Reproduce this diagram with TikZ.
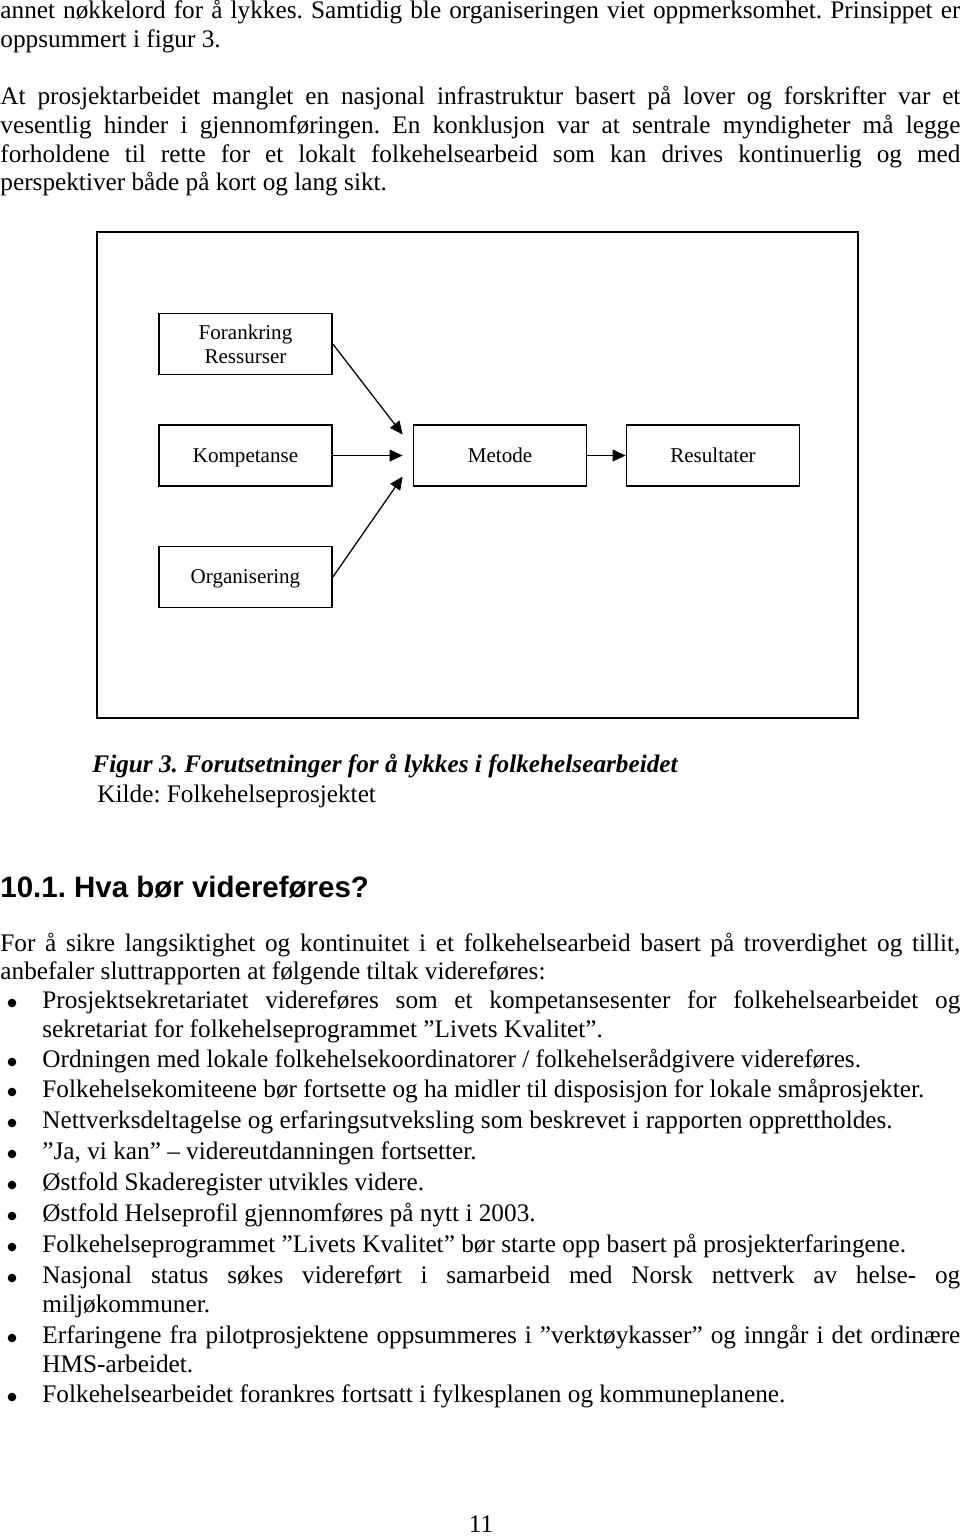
\documentclass[tikz,border=0pt]{standalone}
\usepackage{fontspec}
\setmainfont{Liberation Serif}
\newfontfamily\headfont{Liberation Sans}
\usepackage{tikz}
\usetikzlibrary{calc}
\usetikzlibrary{arrows.meta}

% Justified lines (full text width and bullet text width)
\newcommand{\fullline}[1]{\makebox[456pt][s]{#1}}
\newcommand{\itemline}[1]{\makebox[436pt][s]{#1}}
\newcommand{\boxstrut}{\rule[-2.4pt]{0pt}{11.4pt}}
\frenchspacing

\begin{document}
\begin{tikzpicture}[x=0.475pt, y=-0.475pt,
    txt/.style={anchor=base west, inner sep=0pt, font=\fontsize{12pt}{13.8pt}\selectfont},
    dot/.style={circle, fill, inner sep=0pt, minimum size=4.1pt},
    box/.style={draw, line width=0.8pt, minimum width=82.2pt, minimum height=29pt,
                align=center, inner sep=0pt, font=\fontsize{10pt}{11.4pt}\selectfont},
    arr/.style={-{Triangle[length=6.2pt,width=5.6pt]}, line width=0.6pt}]
    \useasboundingbox (0,0) rectangle (960,1537);

    % Define the text positions
    \def\bx{42}    % left edge of bullet text
    \def\dx{12}    % bullet centre

    % Text above the figure
    \node[txt] (p1a) at (0,18) {\fullline{annet nøkkelord for å lykkes. Samtidig ble organiseringen viet oppmerksomhet. Prinsippet er}};
    \node[txt] (p1b) at (0,47) {oppsummert i figur 3.};
    \node[txt] (p2a) at (0,104) {\fullline{At prosjektarbeidet manglet en nasjonal infrastruktur basert på lover og forskrifter var et}};
    \node[txt] (p2b) at (0,133) {\fullline{vesentlig hinder i gjennomføringen. En konklusjon var at sentrale myndigheter må legge}};
    \node[txt] (p2c) at (0,162) {\fullline{forholdene til rette for et lokalt folkehelsearbeid som kan drives kontinuerlig og med}};
    \node[txt] (p2d) at (0,190) {perspektiver både på kort og lang sikt.};

    % Draw the figure frame
    \draw[line width=0.9pt] (97,232) rectangle (858,718);

    % Boxes
    \node[box] (fora) at (245.5,344) {Forankring\\Ressurser};
    \node[box] (komp) at (245.5,455.5) {\boxstrut Kompetanse};
    \node[box] (orga) at (245.5,577) {\boxstrut Organisering};
    \node[box] (meto) at (500,455.5) {\boxstrut Metode};
    \node[box] (resu) at (713,455.5) {\boxstrut Resultater};

    % Free ends of the arrows in front of Metode
    \coordinate (inA) at ($(meto.west)+(-10,-21)$);
    \coordinate (inB) at ($(meto.west)+(-10,0)$);
    \coordinate (inC) at ($(meto.west)+(-10,21)$);

    % Arrows
    \draw[arr] (fora.east) -- (inA);
    \draw[arr] (komp.east) -- (inB);
    \draw[arr] (orga.east) -- (inC);
    \draw[arr] (meto.east) -- (resu.west);

    % Caption
    \node[txt, font=\fontsize{12pt}{13.8pt}\selectfont\bfseries\itshape] (capt) at (92,772) {Figur 3. Forutsetninger for å lykkes i folkehelsearbeidet};
    \node[txt] (kild) at (97,802) {Kilde: Folkehelseprosjektet};

    % Heading
    \node[txt, font=\fontsize{14pt}{16pt}\selectfont\headfont\bfseries] (head) at (0,897) {10.1. Hva bør videreføres?};

    % Text below the heading
    \node[txt] (p3a) at (0,951) {\fullline{For å sikre langsiktighet og kontinuitet i et folkehelsearbeid basert på troverdighet og tillit,}};
    \node[txt] (p3b) at (0,979) {anbefaler sluttrapporten at følgende tiltak videreføres:};

    % Bullets
    \foreach \y in {1008,1067,1097,1128,1159,1190,1221,1252,1283,1343,1402}
        \node[dot] (dot\y) at (\dx,\y-5) {};

    % Bullet texts
    \node[txt] (i1a) at (\bx,1008) {\itemline{Prosjektsekretariatet videreføres som et kompetansesenter for folkehelsearbeidet og}};
    \node[txt] (i1b) at (\bx,1037) {sekretariat for folkehelseprogrammet ”Livets Kvalitet”.};
    \node[txt] (i2) at (\bx,1067) {Ordningen med lokale folkehelsekoordinatorer / folkehelserådgivere videreføres.};
    \node[txt] (i3) at (\bx,1097) {Folkehelsekomiteene bør fortsette og ha midler til disposisjon for lokale småprosjekter.};
    \node[txt] (i4) at (\bx,1128) {Nettverksdeltagelse og erfaringsutveksling som beskrevet i rapporten opprettholdes.};
    \node[txt] (i5) at (\bx,1159) {”Ja, vi kan” – videreutdanningen fortsetter.};
    \node[txt] (i6) at (\bx,1190) {Østfold Skaderegister utvikles videre.};
    \node[txt] (i7) at (\bx,1221) {Østfold Helseprofil gjennomføres på nytt i 2003.};
    \node[txt] (i8) at (\bx,1252) {Folkehelseprogrammet ”Livets Kvalitet” bør starte opp basert på prosjekterfaringene.};
    \node[txt] (i9a) at (\bx,1283) {\itemline{Nasjonal status søkes videreført i samarbeid med Norsk nettverk av helse- og}};
    \node[txt] (i9b) at (\bx,1312) {miljøkommuner.};
    \node[txt] (i10a) at (\bx,1343) {\itemline{Erfaringene fra pilotprosjektene oppsummeres i ”verktøykasser” og inngår i det ordinære}};
    \node[txt] (i10b) at (\bx,1372) {HMS-arbeidet.};
    \node[txt] (i11) at (\bx,1402) {Folkehelsearbeidet forankres fortsatt i fylkesplanen og kommuneplanene.};

    % Page number
    \node[txt, anchor=base] (page) at (481,1532) {11};

\end{tikzpicture}
\end{document}
